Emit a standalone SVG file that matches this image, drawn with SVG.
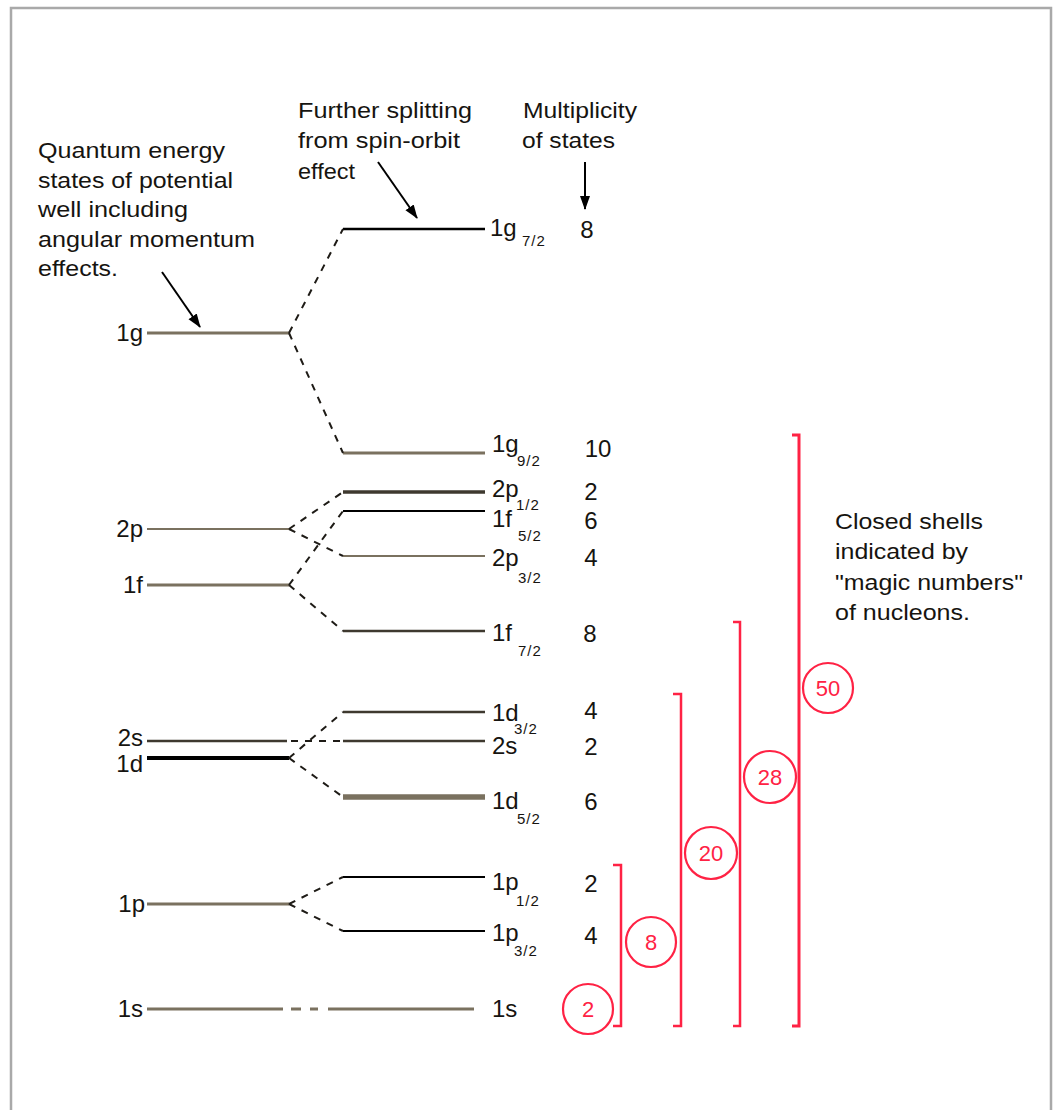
<svg xmlns="http://www.w3.org/2000/svg" width="1058" height="1110" viewBox="0 0 1058 1110">
  <style>
    text { font-family: "Liberation Sans", Arial, sans-serif; fill: #161410; }
    .note { font-size: 22px; }
    .lab { font-size: 24px; }
    .sub { font-size: 15px; letter-spacing: 1px; }
    .mult { font-size: 24px; text-anchor: middle; }
    .left { text-anchor: end; }
    .lv { fill: none; }
    .grey { stroke: #7a715f; }
    .dark { stroke: #3e392f; }
    .blk { stroke: #000; }
    .dash { fill: none; stroke: #1e1b16; stroke-width: 2; stroke-dasharray: 7 7; }
    .arrow { fill: none; stroke: #000; stroke-width: 2; }
    .magic line, .magic path { fill: none; stroke: #ff2244; stroke-width: 2.5; }
    .magic circle { fill: none; stroke: #ff2244; stroke-width: 2.2; }
    .magic text { fill: #ff2244; font-size: 22px; text-anchor: middle; }
  </style>
  <defs>
    <marker id="head" markerUnits="userSpaceOnUse" markerWidth="14" markerHeight="12" refX="13" refY="6" orient="auto">
      <path d="M0,1 L14,6 L0,11 Z" fill="#000"/>
    </marker>
  </defs>

  <rect width="1058" height="1110" fill="#fff"/>
  <!-- frame: open at the bottom -->
  <path d="M11,1112 V8 H1051 V1112" fill="none" stroke="#a9a9a9" stroke-width="2.5"/>

  <!-- annotations -->
  <g id="note-quantum">
    <text class="note" x="38" y="158" textLength="187" lengthAdjust="spacingAndGlyphs">Quantum energy</text>
    <text class="note" x="38" y="188" textLength="195" lengthAdjust="spacingAndGlyphs">states of potential</text>
    <text class="note" x="38" y="217" textLength="150" lengthAdjust="spacingAndGlyphs">well including</text>
    <text class="note" x="38" y="247" textLength="217" lengthAdjust="spacingAndGlyphs">angular momentum</text>
    <text class="note" x="38" y="276" textLength="80" lengthAdjust="spacingAndGlyphs">effects.</text>
  </g>
  <g id="note-spin-orbit">
    <text class="note" x="298" y="118" textLength="174" lengthAdjust="spacingAndGlyphs">Further splitting</text>
    <text class="note" x="298" y="148" textLength="162" lengthAdjust="spacingAndGlyphs">from spin-orbit</text>
    <text class="note" x="298" y="179" textLength="57" lengthAdjust="spacingAndGlyphs">effect</text>
  </g>
  <g id="note-multiplicity">
    <text class="note" x="523" y="118" textLength="114" lengthAdjust="spacingAndGlyphs">Multiplicity</text>
    <text class="note" x="522" y="148" textLength="93" lengthAdjust="spacingAndGlyphs">of states</text>
  </g>
  <g id="note-closed-shells">
    <text class="note" x="835" y="529" textLength="148" lengthAdjust="spacingAndGlyphs">Closed shells</text>
    <text class="note" x="835" y="559" textLength="133" lengthAdjust="spacingAndGlyphs">indicated by</text>
    <text class="note" x="835" y="590" textLength="188" lengthAdjust="spacingAndGlyphs">"magic numbers"</text>
    <text class="note" x="835" y="620" textLength="135" lengthAdjust="spacingAndGlyphs">of nucleons.</text>
  </g>

  <!-- unsplit levels (left column) -->
  <g id="level-1g">
    <line class="lv grey" x1="147" y1="333" x2="289" y2="333" stroke-width="3"/>
    <text class="lab left" x="143" y="341">1g</text>
  </g>
  <g id="level-2p">
    <line class="lv grey" x1="147" y1="529" x2="289" y2="529" stroke-width="2.2"/>
    <text class="lab left" x="143" y="537">2p</text>
  </g>
  <g id="level-1f">
    <line class="lv grey" x1="147" y1="585" x2="289" y2="585" stroke-width="3.2"/>
    <text class="lab left" x="143" y="593">1f</text>
  </g>
  <g id="level-2s">
    <line class="lv dark" x1="147" y1="741" x2="287" y2="741" stroke-width="2.5"/>
    <text class="lab left" x="143" y="746">2s</text>
  </g>
  <g id="level-1d">
    <line class="lv blk" x1="147" y1="758" x2="289" y2="758" stroke-width="4"/>
    <text class="lab left" x="143" y="772">1d</text>
  </g>
  <g id="level-1p">
    <line class="lv grey" x1="147" y1="904" x2="289" y2="904" stroke-width="3"/>
    <text class="lab left" x="145" y="912">1p</text>
  </g>
  <g id="level-1s">
    <line class="lv grey" x1="147" y1="1009" x2="283" y2="1009" stroke-width="3"/>
    <text class="lab left" x="143" y="1017">1s</text>
  </g>

  <!-- split levels (right column) with multiplicities -->
  <g id="level-1g72">
    <line class="lv blk" x1="343" y1="229" x2="485" y2="229" stroke-width="2.5"/>
    <text class="lab" x="490" y="236">1g</text>
    <text class="sub" x="522" y="246">7/2</text>
    <text class="mult" x="587" y="238">8</text>
  </g>
  <g id="level-1g92">
    <line class="lv grey" x1="343" y1="453" x2="485" y2="453" stroke-width="3"/>
    <text class="lab" x="492" y="452">1g</text>
    <text class="sub" x="517" y="466">9/2</text>
    <text class="mult" x="598" y="457">10</text>
  </g>
  <g id="level-2p12">
    <line class="lv dark" x1="343" y1="492" x2="485" y2="492" stroke-width="3.5"/>
    <text class="lab" x="492" y="497">2p</text>
    <text class="sub" x="516" y="510">1/2</text>
    <text class="mult" x="591" y="500">2</text>
  </g>
  <g id="level-1f52">
    <line class="lv blk" x1="343" y1="511" x2="485" y2="511" stroke-width="2"/>
    <text class="lab" x="492" y="527">1f</text>
    <text class="sub" x="518" y="541">5/2</text>
    <text class="mult" x="591" y="529">6</text>
  </g>
  <g id="level-2p32">
    <line class="lv grey" x1="343" y1="556" x2="485" y2="556" stroke-width="2.2"/>
    <text class="lab" x="492" y="566">2p</text>
    <text class="sub" x="518" y="583">3/2</text>
    <text class="mult" x="591" y="566">4</text>
  </g>
  <g id="level-1f72">
    <line class="lv dark" x1="343" y1="631" x2="485" y2="631" stroke-width="2.5"/>
    <text class="lab" x="492" y="641">1f</text>
    <text class="sub" x="518" y="656">7/2</text>
    <text class="mult" x="590" y="642">8</text>
  </g>
  <g id="level-1d32">
    <line class="lv dark" x1="343" y1="712" x2="485" y2="712" stroke-width="2.5"/>
    <text class="lab" x="492" y="721">1d</text>
    <text class="sub" x="514" y="734">3/2</text>
    <text class="mult" x="591" y="719">4</text>
  </g>
  <g id="level-2s12">
    <line class="lv dark" x1="343" y1="741" x2="485" y2="741" stroke-width="2.5"/>
    <text class="lab" x="492" y="754">2s</text>
    <text class="mult" x="591" y="755">2</text>
  </g>
  <g id="level-1d52">
    <line class="lv grey" x1="343" y1="797" x2="485" y2="797" stroke-width="5.5"/>
    <text class="lab" x="492" y="809">1d</text>
    <text class="sub" x="517" y="824">5/2</text>
    <text class="mult" x="591" y="810">6</text>
  </g>
  <g id="level-1p12">
    <line class="lv blk" x1="343" y1="877" x2="485" y2="877" stroke-width="2"/>
    <text class="lab" x="492" y="890">1p</text>
    <text class="sub" x="516" y="906">1/2</text>
    <text class="mult" x="591" y="892">2</text>
  </g>
  <g id="level-1p32">
    <line class="lv blk" x1="343" y1="931" x2="485" y2="931" stroke-width="2"/>
    <text class="lab" x="492" y="941">1p</text>
    <text class="sub" x="514" y="956">3/2</text>
    <text class="mult" x="591" y="944">4</text>
  </g>
  <g id="level-1s12">
    <line class="lv grey" x1="328" y1="1009" x2="474" y2="1009" stroke-width="3"/>
    <text class="lab" x="492" y="1017">1s</text>
  </g>

  <!-- closed-shell brackets and magic numbers -->
  <g id="magic-2" class="magic">
    <circle cx="588" cy="1009" r="25"/>
    <text x="588" y="1017">2</text>
  </g>
  <g id="magic-8" class="magic">
    <path d="M613,865 H621 V1026 H613"/>
    <circle cx="651" cy="942" r="25"/>
    <text x="651" y="950">8</text>
  </g>
  <g id="magic-20" class="magic">
    <path d="M673,694 H681 V1026 H673"/>
    <circle cx="711" cy="853" r="26"/>
    <text x="711" y="861">20</text>
  </g>
  <g id="magic-28" class="magic">
    <path d="M733,622 H740 V1026 H733"/>
    <circle cx="770" cy="777" r="26"/>
    <text x="770" y="785">28</text>
  </g>
  <g id="magic-50" class="magic">
    <path d="M792,435 H799 V1026 H792" style="stroke-width:3"/>
    <circle cx="828" cy="688" r="25"/>
    <text x="828" y="696">50</text>
  </g>

  <!-- connectors: spin-orbit splitting and pointer arrows -->
  <g id="connectors">
    <line class="dash" x1="289" y1="333" x2="343" y2="229"/>
    <line class="dash" x1="289" y1="333" x2="343" y2="453"/>
    <line class="dash" x1="289" y1="529" x2="343" y2="492"/>
    <line class="dash" x1="289" y1="529" x2="343" y2="556"/>
    <line class="dash" x1="289" y1="585" x2="343" y2="511"/>
    <line class="dash" x1="289" y1="585" x2="343" y2="631"/>
    <line class="dash" x1="291" y1="741" x2="343" y2="741"/>
    <line class="dash" x1="289" y1="758" x2="343" y2="712"/>
    <line class="dash" x1="289" y1="758" x2="343" y2="797"/>
    <line class="dash" x1="289" y1="904" x2="343" y2="877"/>
    <line class="dash" x1="289" y1="904" x2="343" y2="931"/>
    <path d="M291,1009 H301 M310,1009 H318" fill="none" stroke="#7a715f" stroke-width="3"/>
    <line class="arrow" x1="162" y1="272" x2="200" y2="327" marker-end="url(#head)"/>
    <line class="arrow" x1="378" y1="162" x2="417" y2="218" marker-end="url(#head)"/>
    <line class="arrow" x1="585" y1="162" x2="585" y2="209" marker-end="url(#head)"/>
  </g>
</svg>
